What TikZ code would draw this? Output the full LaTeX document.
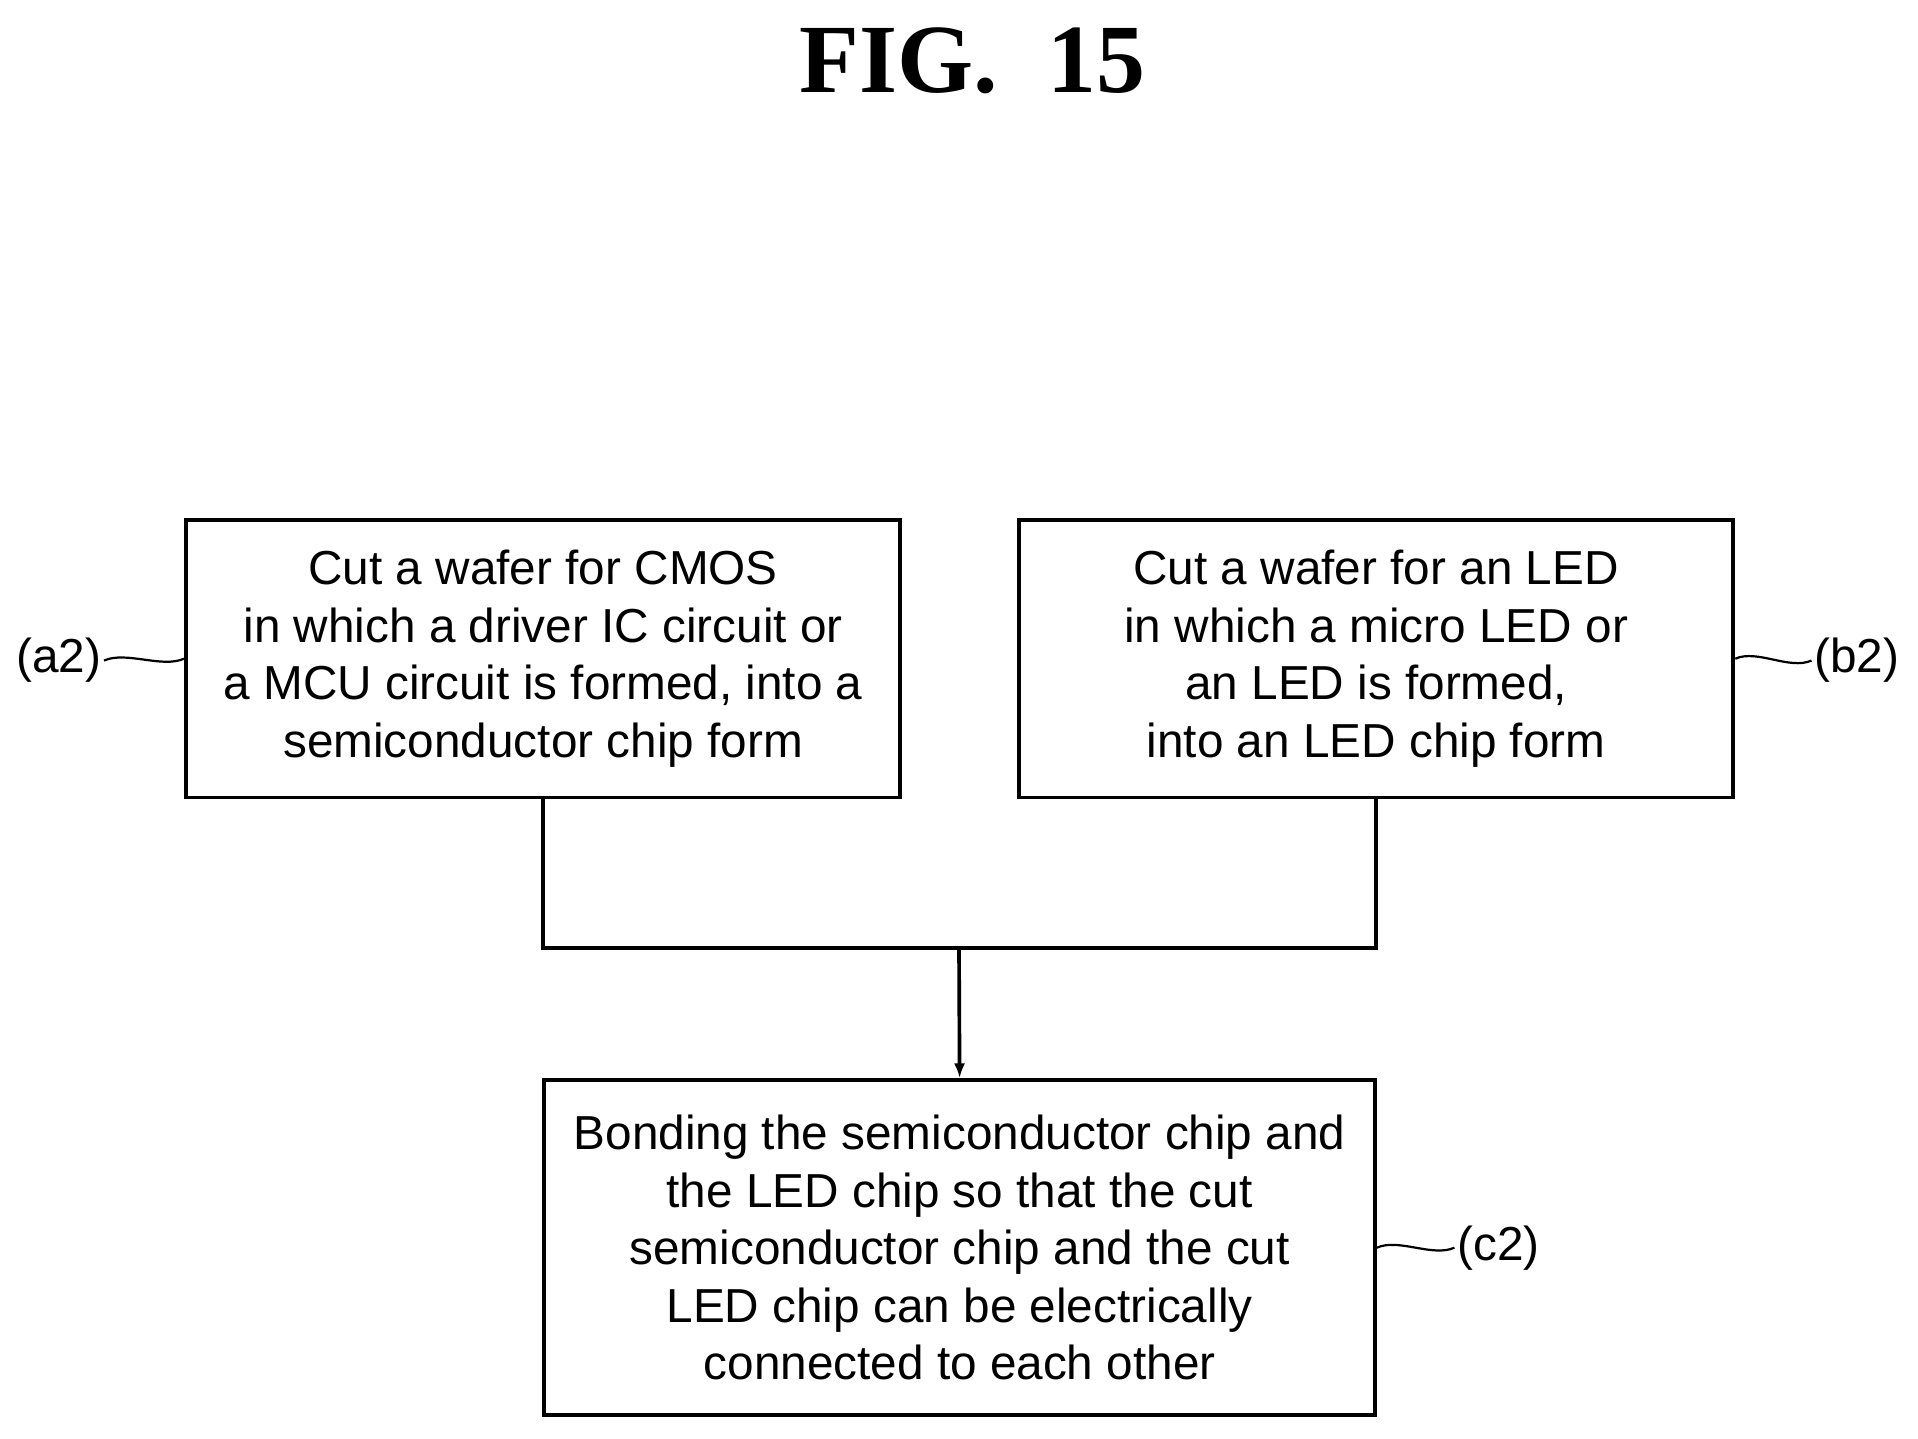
\documentclass[tikz,border=0pt]{standalone}
\usetikzlibrary{arrows.meta}
\usepackage{fontspec}
\setmainfont{Liberation Sans}
\newfontfamily\figfont{Liberation Serif}
\begin{document}
\begin{tikzpicture}[x=0.5pt,y=-0.5pt,
 box/.style={draw,line width=1.6pt,align=center,inner sep=0pt,font=\fontsize{19.5}{23.5}\selectfont},
 lab/.style={font=\fontsize{19.5}{22}\selectfont,inner sep=1pt},
 lead/.style={line width=0.9pt},
 conn/.style={line width=1.5pt}]
\useasboundingbox (0,0) rectangle (1568,1176);
\node[font=\figfont\bfseries\fontsize{40}{44}\selectfont] (title) at (795,50) {FIG.\ \ 15};
\node[box,minimum width=292pt,minimum height=113.5pt] (a) at (444,538.5) {Cut a wafer for CMOS\\in which a driver IC circuit or\\a MCU circuit is formed, into a\\semiconductor chip form};
\node[box,minimum width=292pt,minimum height=113.5pt] (b) at (1125,538.5) {Cut a wafer for an LED\\in which a micro LED or\\an LED is formed,\\into an LED chip form};
\node[box,minimum width=339.5pt,minimum height=137pt] (c) at (784.5,1020) {Bonding the semiconductor chip and\\the LED chip so that the cut\\semiconductor chip and the cut\\LED chip can be electrically\\connected to each other};
\coordinate (j) at (784,775);
\draw[conn] (a.south) |- (j) -| (b.south);
\draw[conn,-{Latex[length=6pt,width=4.5pt]}] (j) -- (c.north);
\node[lab] (la) at (48,540) {(a2)};
\node[lab] (lb) at (1518,540) {(b2)};
\node[lab] (lc) at (1225,1020) {(c2)};
\draw[lead] (la.east) .. controls +(18,-8) and +(-18,8) .. (a.west);
\draw[lead] (b.east) .. controls +(18,-8) and +(-18,8) .. (lb.west);
\draw[lead] (c.east) .. controls +(18,-8) and +(-18,8) .. (lc.west);
\end{tikzpicture}
\end{document}
